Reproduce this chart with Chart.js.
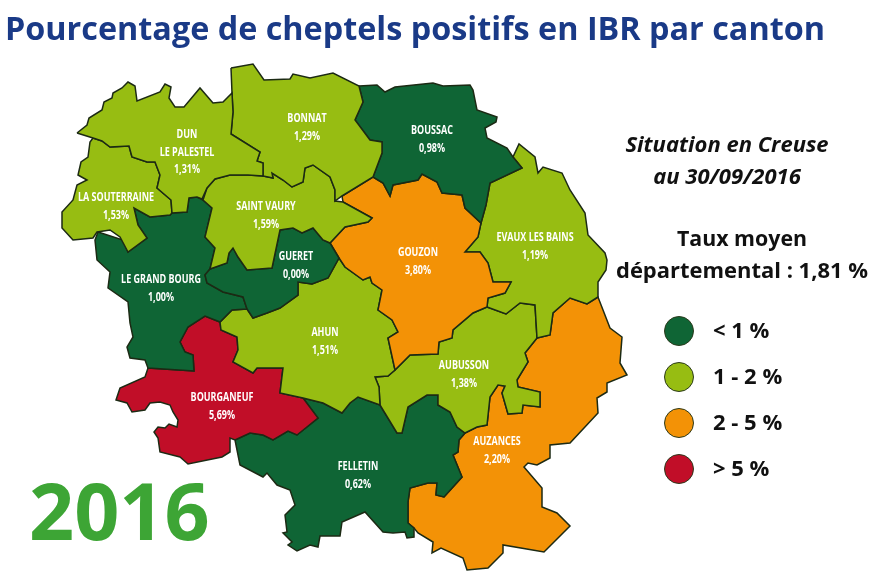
<!DOCTYPE html>
<html>
<head>
<meta charset="utf-8">
<title>Pourcentage de cheptels positifs en IBR par canton</title>
<script src="https://cdn.jsdelivr.net/npm/chart.js@4"></script>
<style>
  html, body { margin: 0; padding: 0; background: #fff; }
  #wrap { width: 874px; height: 576px; }
</style>
</head>
<body>
<div id="wrap"><canvas id="map"></canvas></div>
<script>
(function () {
  var cantons = ["DUN|LE PALESTEL", "LA SOUTERRAINE", "BONNAT", "BOUSSAC", "SAINT VAURY", "GUERET",
    "LE GRAND BOURG", "GOUZON", "EVAUX LES BAINS", "AHUN", "AUBUSSON", "BOURGANEUF", "FELLETIN", "AUZANCES"];
  var rates = [1.31, 1.53, 1.29, 0.98, 1.59, 0.0, 1.0, 3.8, 1.19, 1.51, 1.38, 5.69, 0.62, 2.2];
  var legendLabels = ["< 1 %", "1 - 2 %", "2 - 5 %", "> 5 %"];
  var legendRows = [331, 377, 423, 469];

  // --- Canton outlines, in map units (the image grid) ---
  var dun = [[77,133],[87,125],[89,118],[102,110],[104,102],[112,98],[113,93],[122,88],[128,82],[135,86],[137,101],[160,92],[165,84],[171,87],[169,98],[175,107],[184,107],[200,88],[213,103],[223,102],[232,93],[233,112],[231,134],[260,152],[257,161],[263,163],[263,176],[248,175],[230,175],[215,179],[207,188],[202,199],[197,197],[189,198],[187,212],[172,213],[171,200],[157,188],[160,175],[155,162],[147,162],[132,157],[129,146],[110,147],[102,141],[93,138]];
  var souterraine = [[93,138],[102,141],[110,147],[129,146],[132,157],[147,162],[155,162],[160,175],[157,188],[171,200],[172,213],[170,215],[150,217],[134,208],[138,225],[147,238],[128,252],[120,237],[110,230],[97,232],[93,238],[73,240],[62,228],[62,212],[73,200],[77,185],[87,180],[78,175],[81,162],[88,157],[90,142]];
  var bonnat = [[231,68],[253,64],[264,80],[290,79],[293,74],[310,78],[333,73],[359,86],[363,102],[355,120],[370,140],[382,142],[382,153],[373,177],[342,196],[335,201],[335,190],[330,177],[313,165],[305,168],[303,182],[292,187],[283,180],[272,173],[273,178],[263,176],[263,163],[257,161],[260,152],[231,134],[233,112],[232,93]];
  var boussac = [[359,86],[377,85],[385,92],[395,87],[433,83],[443,86],[470,85],[473,90],[477,110],[497,117],[496,122],[485,128],[487,138],[507,148],[513,157],[522,168],[490,183],[486,205],[481,223],[465,208],[462,195],[442,193],[437,182],[422,174],[418,180],[393,185],[390,196],[383,183],[373,177],[382,153],[382,142],[370,140],[355,120],[363,102]];
  var saintVaury = [[215,179],[230,175],[248,175],[263,176],[273,178],[272,173],[283,180],[292,187],[303,182],[305,168],[313,165],[330,177],[335,190],[335,201],[343,202],[372,218],[368,222],[345,227],[330,243],[323,240],[313,228],[302,233],[293,228],[280,230],[272,268],[247,270],[238,257],[233,248],[229,253],[227,263],[210,269],[215,248],[205,237],[212,208],[203,200],[207,188]];
  var gueret = [[330,243],[339,258],[328,278],[312,284],[298,282],[298,295],[280,308],[267,313],[253,318],[247,309],[243,297],[223,292],[207,283],[205,275],[210,269],[227,263],[229,253],[233,248],[238,257],[247,270],[272,268],[280,230],[293,228],[302,233],[313,228],[323,240]];
  var grandBourg = [[134,208],[150,217],[170,215],[172,213],[187,212],[189,198],[197,197],[203,200],[212,208],[205,237],[215,248],[210,269],[205,275],[207,283],[223,292],[243,297],[247,309],[232,310],[220,322],[205,316],[188,327],[180,342],[185,352],[193,355],[194,371],[148,368],[145,360],[130,358],[127,347],[133,337],[130,323],[128,302],[108,288],[110,272],[97,260],[95,240],[98,232],[123,240],[128,252],[147,238],[138,225]];
  var gouzon = [[342,196],[373,177],[383,183],[390,196],[393,185],[418,180],[422,174],[437,182],[442,193],[462,195],[465,208],[481,223],[478,237],[465,252],[480,252],[488,263],[493,282],[511,282],[505,293],[488,298],[487,307],[473,313],[453,330],[452,338],[439,342],[438,354],[410,355],[395,370],[388,338],[398,332],[392,320],[378,310],[382,290],[372,283],[370,277],[363,280],[345,267],[339,258],[330,243],[345,227],[368,222],[372,218],[343,202]];
  var evaux = [[481,223],[486,205],[490,183],[522,168],[513,157],[519,144],[535,157],[538,173],[543,167],[562,173],[570,190],[585,213],[588,235],[605,253],[607,260],[606,270],[598,282],[598,297],[587,304],[570,298],[553,313],[550,335],[537,338],[535,305],[520,303],[506,314],[487,307],[488,298],[505,293],[511,282],[493,282],[488,263],[480,252],[465,252],[478,237]];
  var ahun = [[339,258],[345,267],[363,280],[370,277],[372,283],[382,290],[378,310],[392,320],[398,332],[388,338],[395,370],[388,376],[375,377],[379,387],[380,405],[358,397],[350,403],[342,413],[323,403],[303,398],[280,393],[283,368],[257,368],[253,373],[233,362],[238,350],[237,337],[221,330],[220,322],[232,310],[247,309],[253,318],[267,313],[280,308],[298,295],[298,282],[312,284],[328,278]];
  var aubusson = [[395,370],[410,355],[438,354],[439,342],[452,338],[453,330],[473,313],[487,307],[506,314],[520,303],[535,305],[537,338],[525,353],[528,362],[517,380],[518,387],[540,392],[540,407],[523,405],[522,413],[508,414],[502,393],[505,386],[498,385],[490,397],[487,425],[477,427],[465,433],[457,427],[450,412],[438,405],[438,395],[427,395],[408,407],[402,433],[397,433],[380,405],[379,387],[375,377],[388,376]];
  var bourganeuf = [[205,316],[220,322],[221,330],[237,337],[238,350],[233,362],[253,373],[257,368],[283,368],[280,393],[303,398],[318,418],[297,435],[288,431],[273,440],[263,435],[250,433],[235,440],[230,438],[230,452],[222,457],[188,464],[180,457],[160,452],[158,438],[154,432],[158,427],[165,428],[169,424],[177,427],[178,420],[173,412],[170,405],[160,402],[150,403],[145,410],[132,412],[127,403],[116,400],[120,388],[145,377],[148,368],[194,371],[193,355],[185,352],[180,342],[188,327]];
  var felletin = [[235,440],[250,433],[263,435],[273,440],[288,431],[297,435],[318,418],[303,398],[323,403],[342,413],[350,403],[358,397],[380,405],[397,433],[402,433],[408,407],[427,395],[438,395],[438,405],[450,412],[457,427],[465,433],[459,440],[458,452],[453,455],[462,477],[444,497],[436,495],[437,483],[428,483],[410,488],[408,502],[408,523],[414,528],[414,537],[407,538],[405,532],[393,533],[383,532],[365,512],[342,522],[340,536],[320,536],[318,547],[310,545],[297,551],[288,545],[292,542],[283,533],[287,532],[285,515],[295,505],[290,490],[277,485],[267,473],[263,477],[240,465]];
  var auzances = [[465,433],[477,427],[487,425],[490,397],[498,385],[505,386],[502,393],[508,414],[522,413],[523,405],[540,407],[540,392],[518,387],[517,380],[528,362],[525,353],[537,338],[550,335],[553,313],[570,298],[587,304],[598,297],[610,328],[622,337],[620,363],[627,375],[607,383],[607,392],[597,398],[598,413],[570,443],[550,445],[550,458],[537,465],[528,463],[524,467],[542,488],[542,507],[557,513],[570,526],[544,552],[503,545],[503,553],[488,568],[467,570],[463,558],[441,548],[432,553],[433,542],[418,533],[414,528],[408,523],[408,502],[410,488],[428,483],[437,483],[436,495],[444,497],[462,477],[453,455],[458,452],[459,440]];
  var outlines = [dun, souterraine, bonnat, boussac, saintVaury, gueret, grandBourg, gouzon, evaux, ahun, aubusson, bourganeuf, felletin, auzances];

  // where each canton's name sits, then its rate
  var nameSpots = [[187,133],[116,196],[307,117],[432,129],[266,205],[296,255],[161,278],[418,251],[535,236],[325,331],[464,364],[222,396],[358,465],[497,440]];

  var classColors = ["#0f6535", "#97bd12", "#f39206", "#c10e28"];

  function classOf(rate) {
    if (rate <= 1) return 0;
    if (rate <= 2) return 1;
    if (rate <= 5) return 2;
    return 3;
  }

  function frenchRate(rate) {
    return rate.toFixed(2).replace(".", ",") + "%";
  }

  // --- One closed, filled line per canton ---
  var datasets = outlines.map(function (outline, i) {
    var points = outline.map(function (p) {
      return { x: p[0], y: p[1] };
    });
    points.push(points[0]);
    return {
      label: cantons[i].replace("|", " "),
      data: points,
      showLine: true,
      fill: "shape",
      tension: 0,
      borderWidth: 1.5,
      borderColor: "#1c2a14",
      backgroundColor: classColors[classOf(rates[i])],
      pointRadius: 0,
      pointHoverRadius: 0,
    };
  });

  datasets.unshift({
    label: "Légende",
    data: legendRows.map(function (y) {
      return { x: 679, y: y };
    }),
    pointRadius: 14.5,
    pointHoverRadius: 14.5,
    pointBackgroundColor: classColors,
    pointBorderColor: "#2b3a1c",
    pointBorderWidth: 1,
  });

  // --- Texts, drawn at map positions ---
  function squeezed(ctx, text, x, y, sx) {
    ctx.save();
    ctx.translate(x, y);
    ctx.scale(sx, 1);
    ctx.fillText(text, 0, 0);
    ctx.restore();
  }

  var textPlugin = {
    id: "mapTexts",
    afterDatasetsDraw: function (chart) {
      var ctx = chart.ctx;
      var sx = chart.scales.x;
      var sy = chart.scales.y;
      ctx.save();
      ctx.textBaseline = "alphabetic";

      ctx.textAlign = "left";
      ctx.fillStyle = "#1a3a87";
      ctx.font = "bold 33px 'Open Sans'";
      ctx.fillText("Pourcentage de cheptels positifs en IBR par canton", sx.getPixelForValue(5), sy.getPixelForValue(40), 820);

      ctx.fillStyle = "#3da535";
      ctx.font = "bold 79px 'Open Sans'";
      ctx.fillText("2016", sx.getPixelForValue(29), sy.getPixelForValue(540));

      ctx.fillStyle = "#111";
      ctx.textAlign = "center";
      ctx.font = "italic bold 22px 'Open Sans'";
      ctx.fillText("Situation en Creuse", sx.getPixelForValue(727), sy.getPixelForValue(152), 204);
      ctx.fillText("au 30/09/2016", sx.getPixelForValue(727), sy.getPixelForValue(184), 155);
      ctx.font = "bold 22px 'Open Sans'";
      ctx.fillText("Taux moyen", sx.getPixelForValue(742), sy.getPixelForValue(246), 130);
      ctx.fillText("départemental : 1,81 %", sx.getPixelForValue(742), sy.getPixelForValue(278), 252);

      ctx.textAlign = "left";
      ctx.font = "bold 22px 'Open Sans'";
      legendLabels.forEach(function (label, i) {
        ctx.fillText(label, sx.getPixelForValue(713), sy.getPixelForValue(legendRows[i] + 7));
      });

      ctx.fillStyle = "#fff";
      ctx.textAlign = "center";
      ctx.font = "bold 12.5px 'Liberation Sans Narrow', 'Open Sans'";
      cantons.forEach(function (name, i) {
        var x = sx.getPixelForValue(nameSpots[i][0]);
        var y = nameSpots[i][1];
        var lines = name.split("|");
        lines.push(frenchRate(rates[i]));
        lines.forEach(function (line, k) {
          squeezed(ctx, line, x, sy.getPixelForValue(y + 5 + k * 17.5), 0.72);
        });
      });
      ctx.restore();
    },
  };

  new Chart(document.getElementById("map"), {
    type: "scatter",
    data: { datasets: datasets },
    plugins: [textPlugin],
    options: {
      responsive: true,
      maintainAspectRatio: false,
      animation: false,
      layout: { padding: 0, autoPadding: false },
      plugins: {
        legend: { display: false },
        tooltip: { enabled: false },
      },
      scales: {
        x: { type: "linear", min: 0, max: 874, display: false },
        y: { type: "linear", min: 0, max: 576, reverse: true, display: false },
      },
    },
  });
})();
</script>
</body>
</html>
